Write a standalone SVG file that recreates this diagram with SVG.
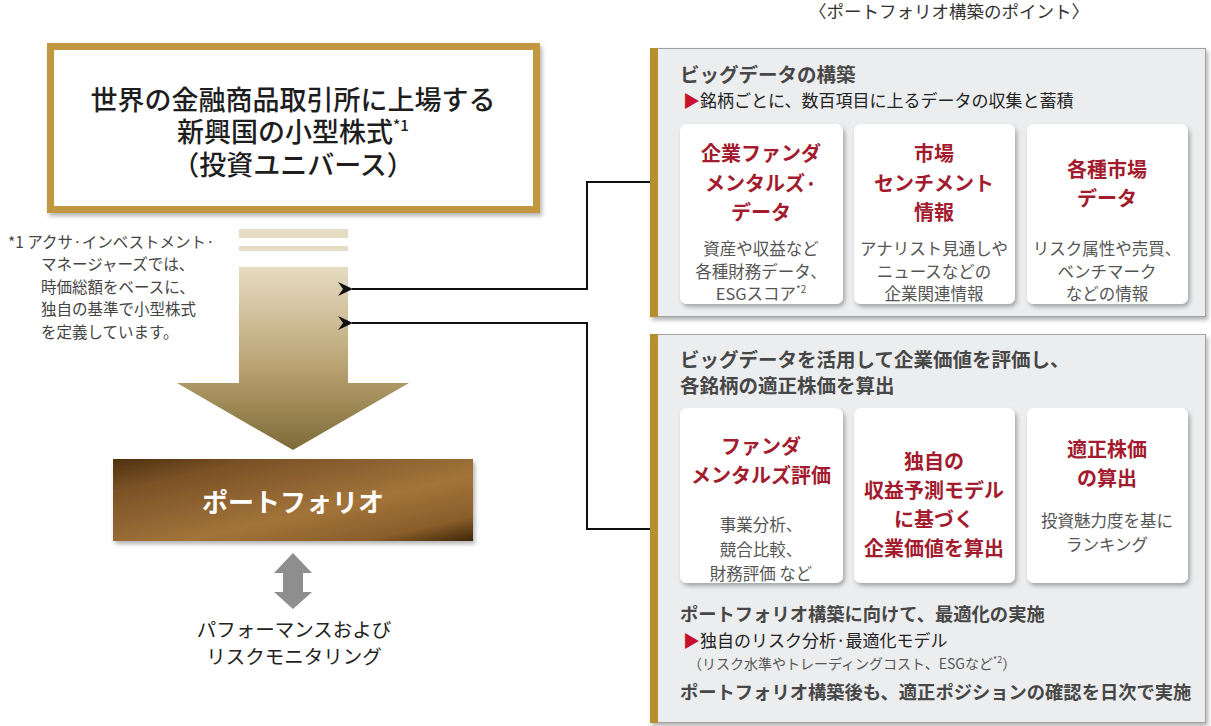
<svg xmlns="http://www.w3.org/2000/svg" width="1211" height="726" viewBox="0 0 1211 726">
<defs>
  <style>
    text { font-family: "Noto Sans CJK JP", "Noto Sans", sans-serif; }
    .main { font-size: 27px; font-weight: 500; fill: #1e1e1e; text-anchor: middle; }
    .note { font-size: 15.5px; fill: #444; }
    .ptitle { font-size: 17.5px; fill: #333; text-anchor: middle; }
    .head { font-size: 19.5px; font-weight: 700; fill: #474747; }
    .head2 { font-size: 18.3px; font-weight: 700; fill: #474747; }
    .sub { font-size: 17px; fill: #222; }
    .small { font-size: 14px; fill: #555; }
    .ctitle { font-size: 20px; font-weight: 700; fill: #A31B2E; text-anchor: middle; }
    .cbody { font-size: 16.5px; fill: #555; text-anchor: middle; }
    .tri { fill: #C8102E; }
    .panel { fill: #ECEDEF; stroke: #A3A3A3; stroke-width: 1; }
    .bar { fill: #B38F2E; }
    .card { fill: #FFFFFF; filter: url(#shadow); }
    .conn { fill: none; stroke: #111; stroke-width: 2; }
  </style>
  <filter id="shadow" x="-10%" y="-10%" width="125%" height="125%">
    <feDropShadow dx="2" dy="3" stdDeviation="2" flood-color="#000" flood-opacity="0.3"/>
  </filter>
  <linearGradient id="arrowGrad" x1="0" y1="0" x2="0" y2="1">
    <stop offset="0" stop-color="#E7DCC2"/>
    <stop offset="0.55" stop-color="#B8A271"/>
    <stop offset="1" stop-color="#7E6A38"/>
  </linearGradient>
  <linearGradient id="brownGrad" x1="0" y1="0" x2="1" y2="1">
    <stop offset="0" stop-color="#4E300E"/>
    <stop offset="0.2" stop-color="#7A5226"/>
    <stop offset="0.6" stop-color="#A3743A"/>
    <stop offset="0.85" stop-color="#8A5E2A"/>
    <stop offset="1" stop-color="#3E2508"/>
  </linearGradient>
  <marker id="arr" markerWidth="16" markerHeight="14" refX="1" refY="7" orient="auto" markerUnits="userSpaceOnUse">
    <path d="M0,7 L15,0 L10,7 L15,14 Z" fill="#111"/>
  </marker>
</defs>

<rect width="1211" height="726" fill="#FFFFFF"/>

<g id="title">
  <text class="ptitle" x="949" y="18">〈ポートフォリオ構築のポイント〉</text>
</g>

<g id="universe">
  <rect x="50.5" y="46.5" width="486" height="163" fill="#FFFFFF" stroke="#C1983F" stroke-width="7" filter="url(#shadow)"/>
  <text class="main" x="293" y="110">世界の金融商品取引所に上場する</text>
  <text class="main" x="293" y="142">新興国の小型株式<tspan font-size="15" dy="-11">*1</tspan></text>
  <text class="main" x="293" y="175">（投資ユニバース）</text>
</g>

<g id="footnote">
  <text class="note" x="8" y="248">*1 アクサ·インベストメント·</text>
  <text class="note" x="41" y="270">マネージャーズでは、</text>
  <text class="note" x="41" y="293">時価総額をベースに、</text>
  <text class="note" x="41" y="315">独自の基準で小型株式</text>
  <text class="note" x="41" y="338">を定義しています。</text>
</g>

<g id="bigarrow">
  <rect x="239" y="229" width="109" height="9" fill="#E6DCC3"/>
  <rect x="239" y="246" width="109" height="5" fill="#E6DCC3"/>
  <path d="M239,267 H348 V383 H409 L293,450 L177,383 H239 Z" fill="url(#arrowGrad)"/>
</g>

<g id="portfolio">
  <rect x="113" y="459" width="360" height="82" fill="url(#brownGrad)" filter="url(#shadow)"/>
  <text x="293" y="512" font-size="26" font-weight="700" fill="#FFFFFF" text-anchor="middle">ポートフォリオ</text>
</g>

<g id="monitoring">
  <path d="M293,553 L312,573 H303 V592 H312 L293,609 L274,592 H283 V573 H274 Z" fill="#8E8E8E"/>
  <text x="294" y="637" font-size="19.5" fill="#222" text-anchor="middle">パフォーマンスおよび</text>
  <text x="294" y="664" font-size="19.5" fill="#222" text-anchor="middle">リスクモニタリング</text>
</g>

<g id="connectors">
  <path class="conn" d="M650,182 H587 V289 H352" marker-end="url(#arr)"/>
  <path class="conn" d="M650,529 H587 V323 H352" marker-end="url(#arr)"/>
</g>

<g id="panel1">
  <rect class="panel" x="650.5" y="48.5" width="555" height="268" filter="url(#shadow)"/>
  <rect class="bar" x="650" y="48" width="8" height="269"/>
  <text class="head" x="680" y="82">ビッグデータの構築</text>
  <text class="sub" x="683" y="107"><tspan class="tri">▶</tspan>銘柄ごとに、数百項目に上るデータの収集と蓄積</text>

  <g id="card-fund">
    <rect class="card" x="680" y="124" width="163" height="180" rx="7"/>
    <text class="ctitle" x="761" y="161">企業ファンダ</text>
    <text class="ctitle" x="761" y="191">メンタルズ·</text>
    <text class="ctitle" x="761" y="220">データ</text>
    <text class="cbody" x="761" y="255">資産や収益など</text>
    <text class="cbody" x="761" y="278">各種財務データ、</text>
    <text class="cbody" x="761" y="300">ESGスコア<tspan font-size="10" dy="-7">*2</tspan></text>
  </g>
  <g id="card-sentiment">
    <rect class="card" x="854" y="124" width="161" height="180" rx="7"/>
    <text class="ctitle" x="934" y="161">市場</text>
    <text class="ctitle" x="934" y="191">センチメント</text>
    <text class="ctitle" x="934" y="220">情報</text>
    <text class="cbody" x="934" y="255">アナリスト見通しや</text>
    <text class="cbody" x="934" y="278">ニュースなどの</text>
    <text class="cbody" x="934" y="300">企業関連情報</text>
  </g>
  <g id="card-market">
    <rect class="card" x="1027" y="124" width="161" height="180" rx="7"/>
    <text class="ctitle" x="1107" y="177">各種市場</text>
    <text class="ctitle" x="1107" y="206">データ</text>
    <text class="cbody" x="1107" y="255">リスク属性や売買、</text>
    <text class="cbody" x="1107" y="278">ベンチマーク</text>
    <text class="cbody" x="1107" y="300">などの情報</text>
  </g>
</g>

<g id="panel2">
  <rect class="panel" x="650.5" y="334.5" width="555" height="388" filter="url(#shadow)"/>
  <rect class="bar" x="650" y="334" width="8" height="389"/>
  <text class="head" x="680" y="367">ビッグデータを活用して企業価値を評価し、</text>
  <text class="head" x="680" y="393">各銘柄の適正株価を算出</text>

  <g id="card-eval">
    <rect class="card" x="680" y="408" width="163" height="175" rx="7"/>
    <text class="ctitle" x="761" y="454">ファンダ</text>
    <text class="ctitle" x="761" y="483">メンタルズ評価</text>
    <text class="cbody" x="761" y="531">事業分析、</text>
    <text class="cbody" x="761" y="556">競合比較、</text>
    <text class="cbody" x="761" y="580">財務評価 など</text>
  </g>
  <g id="card-model">
    <rect class="card" x="854" y="408" width="161" height="175" rx="7"/>
    <text class="ctitle" x="934" y="469">独自の</text>
    <text class="ctitle" x="934" y="498">収益予測モデル</text>
    <text class="ctitle" x="934" y="527">に基づく</text>
    <text class="ctitle" x="934" y="556">企業価値を算出</text>
  </g>
  <g id="card-price">
    <rect class="card" x="1027" y="408" width="161" height="175" rx="7"/>
    <text class="ctitle" x="1107" y="457">適正株価</text>
    <text class="ctitle" x="1107" y="486">の算出</text>
    <text class="cbody" x="1107" y="527">投資魅力度を基に</text>
    <text class="cbody" x="1107" y="551">ランキング</text>
  </g>

  <text class="head2" x="680" y="621">ポートフォリオ構築に向けて、最適化の実施</text>
  <text class="sub" x="683" y="647"><tspan class="tri">▶</tspan>独自のリスク分析·最適化モデル</text>
  <text class="small" x="688" y="669">（リスク水準やトレーディングコスト、ESGなど<tspan font-size="9" dy="-6">*2</tspan><tspan dy="6">）</tspan></text>
  <text class="head2" x="680" y="699">ポートフォリオ構築後も、適正ポジションの確認を日次で実施</text>
</g>
</svg>
